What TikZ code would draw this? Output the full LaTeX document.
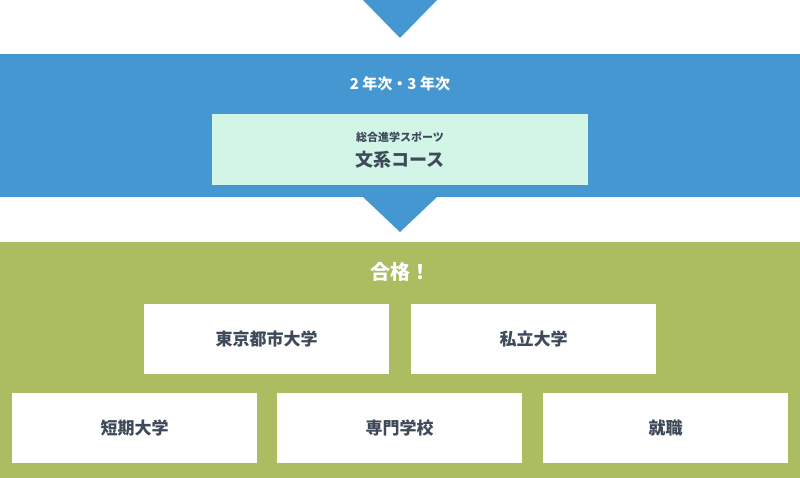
\documentclass[tikz,border=0pt]{standalone}
\usepackage{fontspec}
\setmainfont{Noto Sans CJK JP}
\usetikzlibrary{positioning}
\definecolor{bandblue}{HTML}{4497D0}
\definecolor{bandgreen}{HTML}{ABBD60}
\definecolor{mint}{HTML}{D3F5E8}
\definecolor{ink}{HTML}{3E4A5A}
\begin{document}
\begin{tikzpicture}[
                x=1pt, y=-1pt,
                % Define styles for nodes
                band/.style={draw=none, minimum width=800pt, anchor=north west, inner sep=0pt},
                school box/.style={fill=white, minimum width=245pt, minimum height=70pt, inner sep=0pt, text=ink, font=\fontsize{17}{20}\selectfont\bfseries},
                down arrow/.style={fill=bandblue}
            ]
                \useasboundingbox (0,0) rectangle (800,478);

                % Define bands
                \node[band, fill=bandblue, minimum height=143pt] (Blue) at (0,54) {};
                \node[band, fill=bandgreen, minimum height=236pt] (Green) at (0,242) {};

                % Arrows
                \fill[down arrow] (363,0) -- (437,0) -- (400,38) -- cycle;
                \fill[down arrow] (363,197) -- (437,197) -- (400,232) -- cycle;

                % Blue band content
                \node[text=white, font=\fontsize{15}{18}\selectfont\bfseries] (Years) at (400,84) {2 年次・3 年次};
                \node[fill=mint, minimum width=376pt, minimum height=71pt, inner sep=0pt] (Course) at (400,149.5) {};
                \node[text=ink, font=\fontsize{11}{13}\selectfont\bfseries] (CourseSub) at (400,137) {総合進学スポーツ};
                \node[text=ink, font=\fontsize{18}{21}\selectfont\bfseries] (CourseName) at (400,160) {文系コース};

                % Green band content
                \node[text=white, font=\fontsize{20}{24}\selectfont\bfseries] (Pass) at (400,272) {合格！};
                \node[school box] (Tokyo) at (266.5,339) {東京都市大学};
                \node[school box] (Private) at (533.5,339) {私立大学};
                \node[school box] (Junior) at (134.5,428) {短期大学};
                \node[school box] (Vocational) at (399.5,428) {専門学校};
                \node[school box] (Job) at (665.5,428) {就職};
            \end{tikzpicture}
\end{document}
